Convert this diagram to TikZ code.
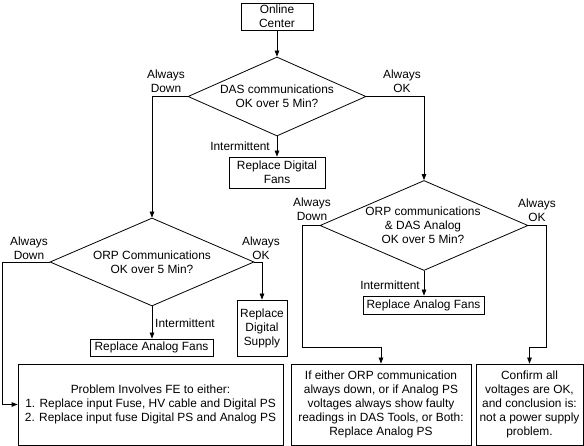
\documentclass[tikz,border=0pt]{standalone}
\usepackage{fontspec}
\setmainfont{Liberation Sans}
\usetikzlibrary{shapes.geometric,arrows.meta}
\begin{document}
\begin{tikzpicture}[x=1pt,y=-1pt,
  every node/.style={font=\fontsize{11.9}{14}\selectfont, align=center, inner sep=0pt},
  box/.style={draw, line width=0.8pt, rectangle},
  dia/.style={draw, line width=0.8pt, shape=diamond, inner sep=0pt},
  lbl/.style={},
  conn/.style={line width=0.8pt},
  arr/.style={line width=0.8pt, -{Triangle[length=6pt,width=4.5pt]}}
]
\useasboundingbox (0,0) rectangle (584,446);
% boxes
\node[box, minimum width=72pt, minimum height=27pt] (online) at (277,16.5) {Online\\Center};
\node[dia, minimum width=178pt, minimum height=79pt] (d1) at (277,96.5) {};
\node (d1t) at (277,96) {DAS communications\\OK over 5 Min?};
\node[box, minimum width=96pt, minimum height=31pt] (rdf) at (277,172.5) {Replace Digital\\Fans};
\node[dia, minimum width=204pt, minimum height=88pt] (d2) at (152,262) {};
\node (d2t) at (152,262) {ORP Communications\\OK over 5 Min?};
\node[dia, minimum width=208pt, minimum height=90pt] (d3) at (424,225.5) {};
\node (d3t) at (423,225) {ORP communications\\\& DAS Analog\\OK over 5 Min?};
\node[box, minimum width=50pt, minimum height=56pt] (rds) at (262,328) {Replace\\Digital\\Supply};
\node[box, minimum width=123pt, minimum height=17pt] (raf) at (151.5,347.5) {Replace Analog Fans};
\node[box, minimum width=121pt, minimum height=18pt] (raf2) at (423.5,305) {Replace Analog Fans};
\node[box, minimum width=265pt, minimum height=81pt] (big) at (150.5,404.5) {Problem Involves FE to either:\\1. Replace input Fuse, HV cable and Digital PS\\2. Replace input fuse Digital PS and Analog PS};
\node[box, minimum width=180pt, minimum height=81pt] (b2) at (381,404.5) {If either ORP communication\\always down, or if Analog PS\\voltages always show faulty\\readings in DAS Tools, or Both:\\Replace Analog PS};
\node[box, minimum width=107pt, minimum height=81pt] (b3) at (529.5,404.5) {Confirm all\\voltages are OK,\\and conclusion is:\\not a power supply\\problem.};
% labels
\node[lbl] (l1) at (166,81) {Always\\Down};
\node[lbl] (l2) at (402,81) {Always\\OK};
\node[lbl, anchor=east] (l3) at (270,146) {Intermittent};
\node[lbl] (l4) at (29,248) {Always\\Down};
\node[lbl] (l5) at (261,248) {Always\\OK};
\node[lbl, anchor=west] (l6) at (155,323) {Intermittent};
\node[lbl] (l7) at (312,209) {Always\\Down};
\node[lbl] (l8) at (537,210) {Always\\OK};
\node[lbl, anchor=east] (l9) at (420,285) {Intermittent};
% coordinates
\coordinate (c1) at (2,262);
\coordinate (c2) at (302,225.5);
\coordinate (c3) at (302,347);
\coordinate (c4) at (546,225.5);
\coordinate (c5) at (546,347);
% connectors
\draw[arr] (online) -- (d1.north);
\draw[arr] (d1.west) -| (d2.north);
\draw[arr] (d1.east) -| (d3.north);
\draw[arr] (d1.south) -- (rdf.north);
\draw[arr] (d2.west) -- (c1) |- (big.west);
\draw[arr] (d2.east) -| (rds.north);
\draw[arr] (d2.south) -- (raf.north -| d2.south);
\draw[arr] (d3.west) -- (c2) -- (c3) -| (b2.north);
\draw[arr] (d3.east) -- (c4) -- (c5) -| (b3.north);
\draw[arr] (d3.south) -- (raf2.north -| d3.south);
\end{tikzpicture}
\end{document}
